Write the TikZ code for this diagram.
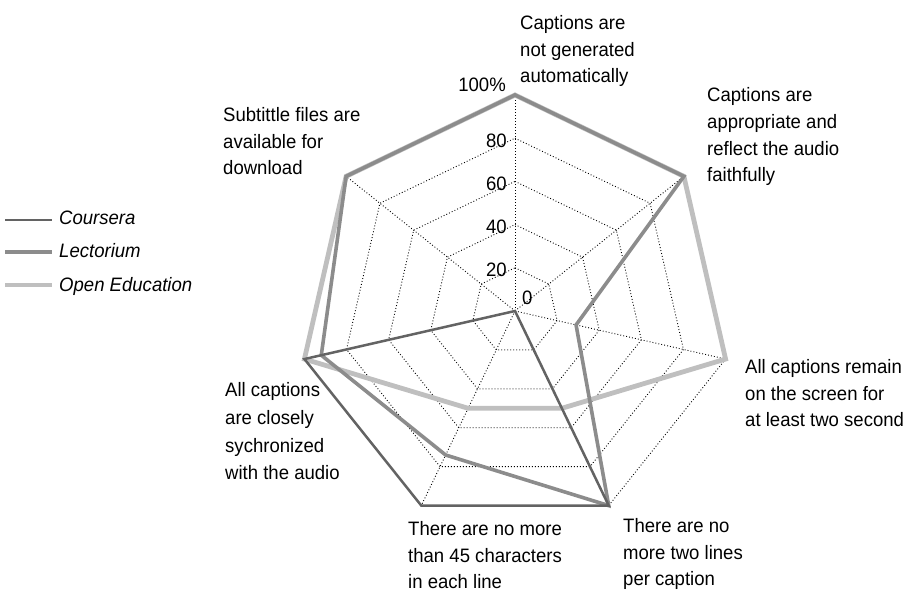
\documentclass[tikz,border=0pt]{standalone}
\usepackage{fontspec}
\setmainfont{Liberation Sans}[FakeStretch=0.955]
\tikzset{
  grid/.style={line width=0.9bp, dash pattern=on 0.9bp off 2.1bp},
  coursera/.style={line width=2.5bp, draw=black!61},
  lectorium/.style={line width=3.6bp, draw=black!45},
  openedu/.style={line width=4.8bp, draw=black!25},
  crit/.style={anchor=base west, align=left, inner sep=0pt},
  tick/.style={anchor=base east, inner sep=0pt},
}
\def\rad{216}

\begin{document}
\begin{tikzpicture}[x=1bp, y=1bp, font=\fontsize{19.5}{27}\selectfont]
		%%%%% START %%%%%
		\useasboundingbox (0,0) rectangle (911,592);
		
		\begin{scope}[shift={(515,281)}]
		% web
		\foreach \r in {0.2,0.4,0.6,0.8,1}
			\draw[grid] (90:{\rad*\r}) \foreach \k in {1,...,6} { -- ({90-\k*360/7}:{\rad*\r}) } -- cycle;
		\foreach \k in {0,...,6}
			\draw[grid] (0,0) -- ({90-\k*360/7}:\rad);
		
		% series
		\foreach \v [count=\k from 0] in {1,1,1,0.5,0.5,1,1}
			\coordinate (oe\k) at ({90-\k*360/7}:{\rad*\v});
		\foreach \v [count=\k from 0] in {1,1,0.29,1,0.74,0.92,1}
			\coordinate (le\k) at ({90-\k*360/7}:{\rad*\v});
		\foreach \v [count=\k from 0] in {0,0,0,1,1,1,0}
			\coordinate (co\k) at ({90-\k*360/7}:{\rad*\v});
		
		\draw[openedu] (oe0) -- (oe1) -- (oe2) -- (oe3) -- (oe4) -- (oe5) -- (oe6) -- cycle;
		\draw[lectorium] (le0) -- (le1) -- (le2) -- (le3) -- (le4) -- (le5) -- (le6) -- cycle;
		\draw[coursera] (co0) -- (co3) -- (co4) -- (co5) -- cycle;
		\end{scope}
		
		% scale
		\node[tick] (t100) at (506,500) {100\%};
		\node[tick] (t80) at (507,444) {80};
		\node[tick] (t60) at (507,401) {60};
		\node[tick] (t40) at (507,358) {40};
		\node[tick] (t20) at (507,315) {20};
		\node[anchor=base west, inner sep=0pt] (t0) at (522,287) {0};
		
		% criteria (anchored at the last line)
		\node[crit] (cauto) at (520,509) {Captions are\\not generated\\automatically};
		\node[crit] (cfaith) at (707,410) {Captions are\\appropriate and\\reflect the audio\\faithfully};
		\node[crit] (ctime) at (745,165) {All captions remain\\on the screen for\\at least two second};
		\node[crit] (clines) at (623,6) {There are no\\more two lines\\per caption};
		\node[crit] (cchars) at (408,3) {There are no more\\than 45 characters\\in each line};
		\node[crit, font=\fontsize{19.5}{28}\selectfont] (csync) at (225,112) {All captions\\are closely\\sychronized\\with the audio};
		\node[crit] (cfiles) at (223,417) {Subtittle files are\\available for\\download};
		
		% legend
		\draw[coursera] (5,372) -- (52,372);
		\draw[lectorium] (5,340) -- (52,340);
		\draw[openedu] (5,307) -- (52,307);
		\node[crit, font=\fontsize{19.5}{27}\selectfont\itshape] (lco) at (59,367) {Coursera};
		\node[crit, font=\fontsize{19.5}{27}\selectfont\itshape] (lle) at (59,334) {Lectorium};
		\node[crit, font=\fontsize{19.5}{27}\selectfont\itshape] (loe) at (59,300) {Open Education};
		%%%%% END %%%%%
\end{tikzpicture}
\end{document}
